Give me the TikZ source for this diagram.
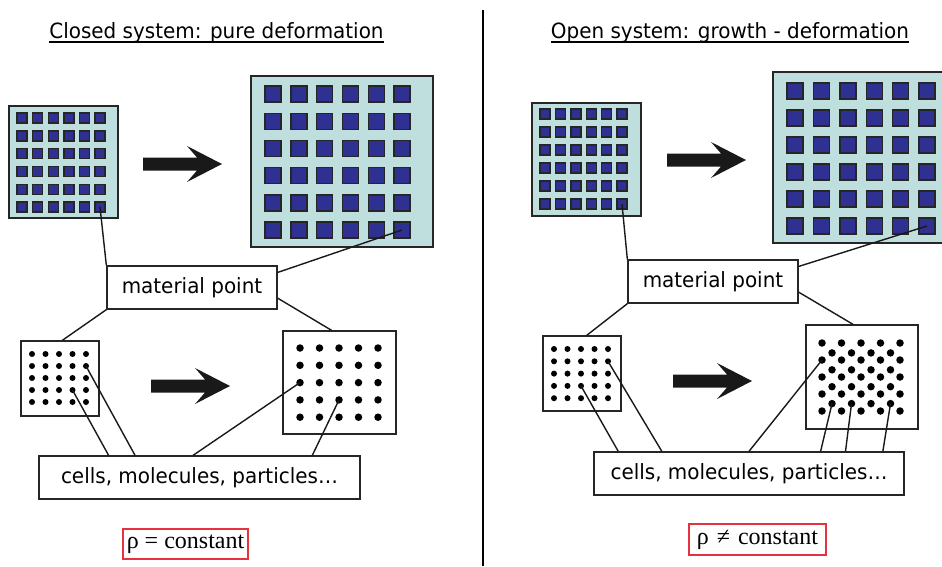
\documentclass[tikz,border=0pt]{standalone}
\usepackage{fontspec}
\usetikzlibrary{calc}
\newfontfamily\tahoma{DejaVu Sans}[FakeStretch=0.95]
\newfontfamily\timesrm{Liberation Serif}
\definecolor{gridbg}{RGB}{191,222,222}
\definecolor{cellblue}{RGB}{46,49,146}
\definecolor{rhored}{RGB}{228,50,62}
\tikzset{
  gridbox/.style={draw=black!85,fill=gridbg,line width=1.6pt,inner sep=0pt},
  dotbox/.style={draw=black!85,line width=1.4pt,inner sep=0pt},
  cellsq/.style={draw=black!85,fill=cellblue,line width=1.4pt,inner sep=0pt,minimum size=#1},
  cellsq/.default=10,
  particle/.style={circle,fill=black,inner sep=0pt,minimum size=#1},
  particle/.default=6,
  tagbox/.style={draw=black!85,line width=1.3pt,inner sep=0pt,font=\tahoma\fontsize{21}{25}\selectfont},
  titletext/.style={inner sep=0pt,font=\tahoma\fontsize{21}{25}\selectfont},
  rhobox/.style={draw=rhored,line width=1.3pt,inner sep=0pt,font=\timesrm\fontsize{24}{28}\selectfont},
  link/.style={line width=1.4pt,black!90},
  fatarrow/.pic={\fill[black!90] (0,-6.5) -- (54,-6.5) -- (44,-18) -- (79,0) -- (44,18) -- (54,6.5) -- (0,6.5) -- cycle;}
}
\begin{document}
\begin{tikzpicture}[x=1pt,y=-1pt]
\useasboundingbox (0,0) rectangle (942,566);

% titles
\node[titletext,anchor=base] (titleL) at (216.5,38) {Closed system: pure deformation};
\draw[line width=1.4pt] ($(titleL.base west)+(0,4)$) -- ($(titleL.base east)+(0,4)$);
\node[titletext,anchor=base] (titleR) at (730,38) {Open system: growth - deformation};
\draw[line width=1.4pt] ($(titleR.base west)+(0,4)$) -- ($(titleR.base east)+(0,4)$);

% divider
\draw[line width=1.4pt] (483,10) -- (483,566);

%%% closed system

% lattices before and after
\node[gridbox,minimum width=109,minimum height=112] (gsL) at (63.5,162) {};
\foreach \i in {1,...,6}
  \foreach \j in {1,...,6}
    \node[cellsq] (qsL-\i-\j) at ({6.4+15.6*\i},{100.2+17.8*\j}) {};

\node[gridbox,minimum width=182,minimum height=171] (gbL) at (342,161.5) {};
\foreach \i in {1,...,6}
  \foreach \j in {1,...,6}
    \node[cellsq=16] (qbL-\i-\j) at ({247.2+25.8*\i},{66.8+27.2*\j}) {};

\pic at (143,164) {fatarrow};

% particles before and after
\node[dotbox,minimum width=78,minimum height=75] (dsL) at (60,378.5) {};
\foreach \i in {1,...,5}
  \foreach \j in {1,...,5}
    \node[particle] (psL-\i-\j) at ({18.5+13.5*\i},{342+12*\j}) {};

\node[dotbox,minimum width=113,minimum height=103] (dbL) at (339.5,382.5) {};
\foreach \i in {1,...,5}
  \foreach \j in {1,...,5}
    \node[particle=7.5] (pbL-\i-\j) at ({280.5+19.5*\i},{330.7+17.3*\j}) {};

\pic at (151,386) {fatarrow};

\node[tagbox,minimum width=170,minimum height=43] (mpL) at (192,287.5) {material point};
\node[tagbox,minimum width=321,minimum height=43] (clL) at (199.5,477.5) {cells, molecules, particles…};
\node[rhobox,minimum width=125,minimum height=30] (rhoL) at (185.5,544) {ρ = constant};

\draw[link] (qsL-6-6.center) -- (mpL.north west);
\draw[link] (qbL-6-6.center) -- ($(mpL.north east)!0.16!(mpL.south east)$);
\draw[link] (mpL.south west) -- ($(dsL.north west)!0.53!(dsL.north east)$);
\draw[link] ($(mpL.north east)!0.74!(mpL.south east)$) -- ($(dbL.north west)!0.43!(dbL.north east)$);
\draw[link] (psL-4-4.center) -- ($(clL.north west)!0.218!(clL.north east)$);
\draw[link] (psL-5-2.center) -- ($(clL.north west)!0.30!(clL.north east)$);
\draw[link] (pbL-1-3.center) -- ($(clL.north west)!0.48!(clL.north east)$);
\draw[link] (pbL-3-4.center) -- ($(clL.north west)!0.85!(clL.north east)$);

%%% open system

\node[gridbox,minimum width=109,minimum height=113] (gsR) at (586.5,159.5) {};
\foreach \i in {1,...,6}
  \foreach \j in {1,...,6}
    \node[cellsq] (qsR-\i-\j) at ({529.6+15.4*\i},{96+18*\j}) {};

\node[gridbox,minimum width=182,minimum height=171] (gbR) at (864,157.5) {};
\foreach \i in {1,...,6}
  \foreach \j in {1,...,6}
    \node[cellsq=16] (qbR-\i-\j) at ({768.6+26.4*\i},{64+27*\j}) {};

\pic at (667,160) {fatarrow};

\node[dotbox,minimum width=78,minimum height=75] (dsR) at (582,373.5) {};
\foreach \i in {1,...,5}
  \foreach \j in {1,...,5}
    \node[particle] (psR-\i-\j) at ({540.5+13.5*\i},{336.7+12.3*\j}) {};

% denser packing after growth: rows of five and four
\node[dotbox,minimum width=112,minimum height=104] (dbR) at (862,377) {};
\foreach \i in {1,...,5}
  \foreach \k in {1,...,5}
    \node[particle=7.5] (pA-\i-\k) at ({802.5+19.5*\i},{326+17*\k}) {};
\foreach \i in {1,...,4}
  \foreach \k in {1,...,4}
    \node[particle=7.5] (pB-\i-\k) at ({812.5+19.5*\i},{336+16.9*\k}) {};

\pic at (673,381) {fatarrow};

\node[tagbox,minimum width=170,minimum height=43] (mpR) at (713,281.5) {material point};
\node[tagbox,minimum width=310,minimum height=43] (clR) at (749,473.5) {cells, molecules, particles…};
\node[rhobox,minimum width=137,minimum height=31] (rhoR) at (757.5,539.5) {ρ\hspace{8pt}≠\hspace{8pt}constant};

\draw[link] (qsR-6-6.center) -- (mpR.north west);
\draw[link] (qbR-6-6.center) -- ($(mpR.north east)!0.16!(mpR.south east)$);
\draw[link] (mpR.south west) -- ($(dsR.north west)!0.56!(dsR.north east)$);
\draw[link] ($(mpR.north east)!0.74!(mpR.south east)$) -- ($(dbR.north west)!0.42!(dbR.north east)$);
\draw[link] (psR-3-4.center) -- ($(clR.north west)!0.08!(clR.north east)$);
\draw[link] (psR-5-2.center) -- ($(clR.north west)!0.22!(clR.north east)$);
\draw[link] (pA-1-2.center) -- ($(clR.north west)!0.50!(clR.north east)$);
\draw[link] (pB-1-4.center) -- ($(clR.north west)!0.73!(clR.north east)$);
\draw[link] (pB-2-4.center) -- ($(clR.north west)!0.81!(clR.north east)$);
\draw[link] (pB-4-4.center) -- ($(clR.north west)!0.93!(clR.north east)$);

\end{tikzpicture}
\end{document}
